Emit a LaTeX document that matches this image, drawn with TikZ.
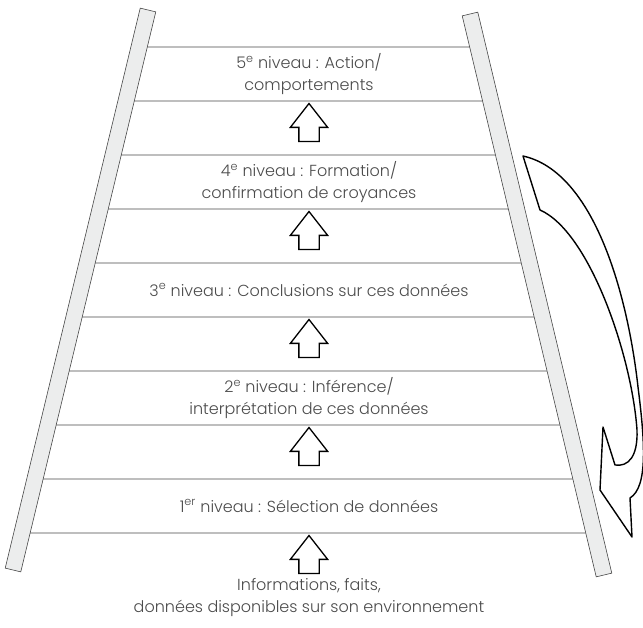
\documentclass[tikz,border=0pt]{standalone}
\usepackage{fontspec}
\IfFontExistsTF{Poppins Light}{\setmainfont{Poppins Light}}{\setmainfont{Poppins}}
\usetikzlibrary{calc,shapes.arrows}
\definecolor{railgray}{RGB}{236,237,237}
\definecolor{linegray}{RGB}{70,70,70}
\definecolor{textgray}{RGB}{75,75,75}

\begin{document}
\begin{tikzpicture}[x=1pt,y=1pt,font=\fontsize{16}{22}\selectfont]
\tikzstyle{rail}=[fill=railgray,draw=linegray,line width=0.6pt]
\tikzstyle{rung}=[draw=linegray,line width=0.8pt]
\tikzstyle{level text}=[align=center,text=textgray,inner sep=0]
\tikzstyle{up arrow}=[single arrow,draw=black,fill=white,line width=1.3pt,rotate=90,
    inner xsep=0,inner ysep=9.5pt,minimum height=38pt,
    single arrow head extend=8.5pt,single arrow tip angle=76]
\tikzstyle{bend arrow}=[draw=black,fill=white,line width=1.4pt,line join=round]

\useasboundingbox (0,0) rectangle (643,627);

% rail axes
\coordinate (lt) at (148,617);
\coordinate (lb) at (13,57);
\coordinate (rt) at (470,613);
\coordinate (rb) at (604,52);

% rungs
\foreach \y in {580,526,472,418,364,310,256,202,148,94}
    \draw[rung] ($(lt)!{(617-\y)/560}!(lb)$) -- ($(rt)!{(613-\y)/561}!(rb)$);

% rails
\draw[rail] ($(lt)!8pt!90:(lb)$) -- ($(lt)!8pt!-90:(lb)$)
    -- ($(lb)!8pt!90:(lt)$) -- ($(lb)!8pt!-90:(lt)$) -- cycle;
\draw[rail] ($(rt)!8pt!90:(rb)$) -- ($(rt)!8pt!-90:(rb)$)
    -- ($(rb)!8pt!90:(rt)$) -- ($(rb)!8pt!-90:(rt)$) -- cycle;

% levels
\node[level text] (lvl5) at (309,553) {5\textsuperscript{e} niveau : Action/\\comportements};
\node[level text] (lvl4) at (309,445) {4\textsuperscript{e} niveau : Formation/\\confirmation de croyances};
\node[level text] (lvl3) at (309,337) {3\textsuperscript{e} niveau : Conclusions sur ces données};
\node[level text] (lvl2) at (309,229) {2\textsuperscript{e} niveau : Inférence/\\interprétation de ces données};
\node[level text] (lvl1) at (309,121) {1\textsuperscript{er} niveau : Sélection de données};
\node[level text] (info) at (309,29.5) {Informations, faits,\\données disponibles sur son environnement};

% arrows between levels
\foreach \yy [count=\i] in {66,174,282,390,498}
    \node[up arrow] (up\i) at (309,\yy) {};

% arrow going back down
\draw[bend arrow] (523,471) .. controls (595,455) and (628,330) .. (638,240)
    .. controls (645,185) and (648,140) .. (630,129)
    -- (632,90) -- (600,137) -- (603,200) -- (615,162)
    .. controls (628,160) and (638,170) .. (637,197)
    .. controls (632,270) and (590,395) .. (540,417) -- cycle;

\end{tikzpicture}
\end{document}
